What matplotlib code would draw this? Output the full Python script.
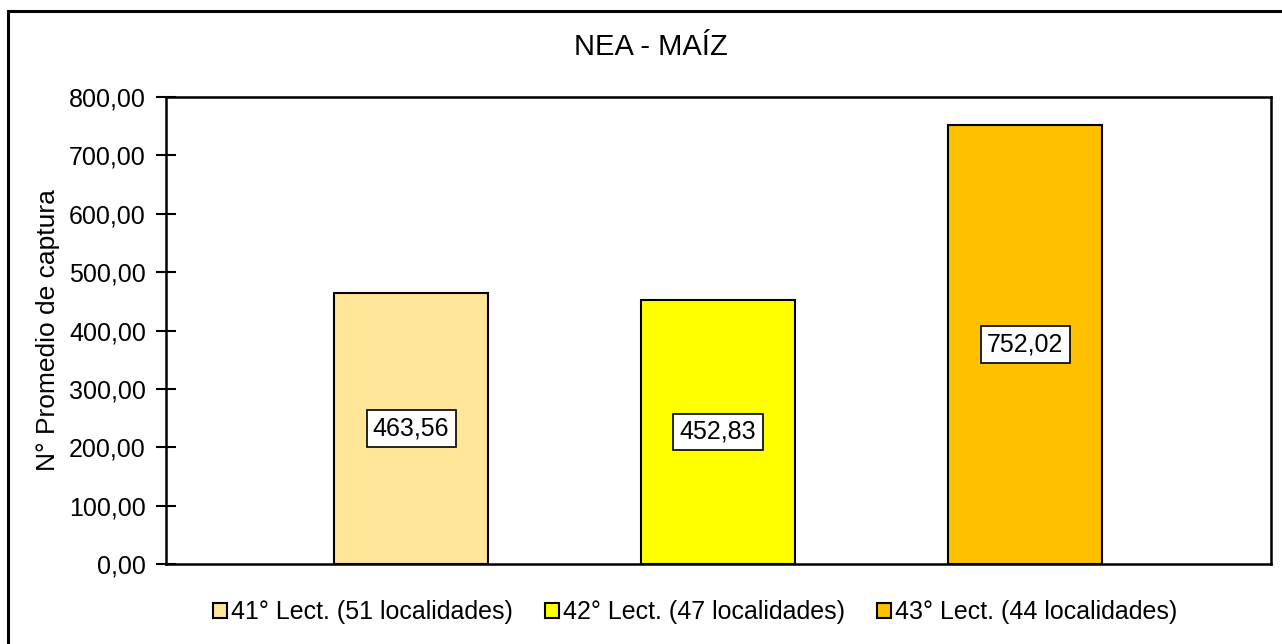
import matplotlib
matplotlib.use("Agg")
import matplotlib.pyplot as plt
from matplotlib.patches import Rectangle

plt.rcParams['font.family'] = ['Liberation Sans', 'DejaVu Sans']

series = ["41° Lect. (51 localidades)", "42° Lect. (47 localidades)", "43° Lect. (44 localidades)"]
values = [463.56, 452.83, 752.02]
colors = ["#FFE699", "#FFFF00", "#FFC000"]
yticks = [0, 100, 200, 300, 400, 500, 600, 700, 800]
title = "NEA - MAÍZ"
ylabel = "N° Promedio de captura"

fig = plt.figure(figsize=(12.82, 6.44), dpi=100)
ax = fig.add_axes([166/1282, 1-564/644, (1271-166)/1282, (564-97)/644])

xs = list(range(len(values)))
handles = []
for x, v, c, s in zip(xs, values, colors, series):
    b = ax.bar(x, v, width=0.5, color=c, edgecolor="black", linewidth=1.5, label=s)
    handles.append(b)
    ax.text(x, v/2, f"{v:.2f}".replace(".", ","), ha="center", va="center", fontsize=18,
            bbox=dict(boxstyle="square,pad=0.25", fc="white", ec="black", lw=1.2))

ax.set_xlim(-0.798, 2.801)
ax.set_ylim(0, 800)
ax.set_yticks(yticks)
ax.set_yticklabels([f"{t:.2f}".replace(".", ",") for t in yticks], fontsize=18)
ax.tick_params(axis="y", direction="inout", length=15, width=1.5, pad=7)
ax.set_xticks([])
for sp in ax.spines.values():
    sp.set_linewidth(1.8)
    sp.set_color("black")
ax.set_ylabel(ylabel, fontsize=19)
ax.yaxis.set_label_coords((60-166)/(1271-166), (564-330)/(564-97))

fig.text(651/1282, 1-47/644, title, ha="center", va="center", fontsize=21)

leg = fig.legend(handles=[h[0] for h in handles], labels=series, loc="center",
                 bbox_to_anchor=(695/1282, 1-612/644), ncol=3, frameon=False, fontsize=18,
                 handlelength=0.55, handleheight=0.55, handletextpad=0.15, columnspacing=1.3)

fig.patches.append(Rectangle((8/1282, -0.2), 1.2, 1-11/644+0.2, transform=fig.transFigure,
                             fill=False, ec="black", lw=2.2))

fig.savefig("out.png", dpi=100)
